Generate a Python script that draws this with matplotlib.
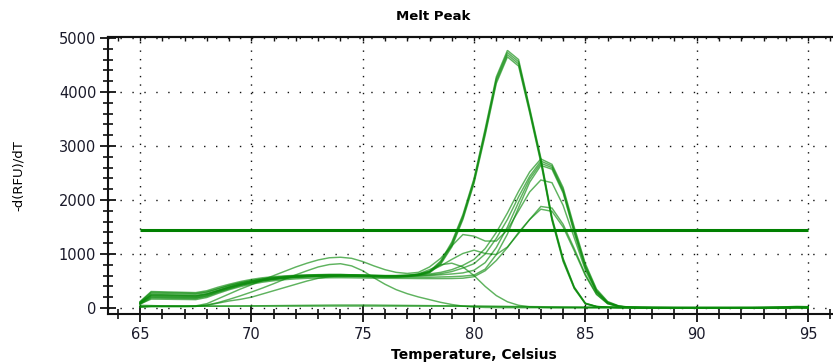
import numpy as np
import matplotlib
matplotlib.use("Agg")
import matplotlib.pyplot as plt
from matplotlib.ticker import MultipleLocator

# Temperature grid (0.5 C steps) and -d(RFU)/dT traces per well
temps = np.arange(65.0, 95.01, 0.5)

well_a1 = [110, 290, 285, 280, 275, 270, 300, 360, 420, 470,
           510, 540, 565, 585, 600, 610, 615, 620, 620, 615,
           610, 600, 595, 595, 600, 620, 680, 870, 1220, 1730,
           2400, 3320, 4280, 4770, 4600, 3700, 2780, 1680, 920, 390,
           90, 30, 15, 10, 8, 7, 6, 6, 5, 5,
           5, 5, 5, 5, 5, 5, 6, 7, 9, 12, 10]
well_a2 = [90, 250, 245, 240, 235, 230, 265, 330, 395, 450,
           495, 530, 555, 575, 590, 600, 605, 610, 610, 605,
           600, 595, 590, 590, 595, 615, 670, 850, 1190, 1700,
           2370, 3280, 4240, 4730, 4560, 3670, 2750, 1660, 900, 380,
           85, 28, 14, 10, 8, 7, 6, 6, 5, 5,
           5, 5, 5, 5, 5, 5, 6, 7, 9, 11, 9]
well_a3 = [80, 215, 212, 208, 205, 200, 240, 310, 375, 430,
           475, 510, 540, 562, 578, 590, 598, 602, 603, 600,
           596, 590, 585, 585, 590, 610, 660, 830, 1160, 1670,
           2340, 3240, 4200, 4690, 4520, 3640, 2720, 1640, 880, 370,
           80, 26, 13, 9, 7, 6, 6, 5, 5, 5,
           5, 4, 4, 4, 5, 5, 5, 6, 8, 10, 8]
well_a4 = [70, 185, 183, 180, 178, 175, 215, 290, 355, 415,
           460, 500, 530, 552, 568, 580, 588, 592, 594, 592,
           588, 582, 578, 578, 585, 605, 650, 810, 1130, 1640,
           2310, 3200, 4160, 4650, 4480, 3610, 2690, 1620, 860, 360,
           75, 25, 12, 9, 7, 6, 5, 5, 5, 4,
           4, 4, 4, 4, 4, 5, 5, 6, 7, 9, 8]
well_b1 = [120, 305, 300, 295, 290, 285, 320, 385, 440, 490,
           530, 560, 580, 595, 605, 612, 618, 620, 620, 615,
           610, 605, 600, 600, 605, 615, 630, 660, 710, 790,
           900, 1100, 1400, 1760, 2160, 2520, 2760, 2660, 2230, 1500,
           820, 350, 120, 40, 15, 10, 8, 7, 6, 6,
           5, 5, 5, 5, 5, 6, 7, 9, 12, 16, 12]
well_b2 = [105, 270, 266, 262, 258, 254, 290, 355, 415, 465,
           505, 538, 560, 577, 590, 598, 604, 607, 607, 603,
           598, 593, 589, 589, 592, 600, 612, 635, 675, 740,
           820, 1000, 1290, 1640, 2060, 2440, 2720, 2630, 2190, 1460,
           790, 330, 110, 35, 14, 9, 7, 6, 6, 5,
           5, 5, 5, 5, 5, 5, 6, 8, 10, 13, 10]
well_b3 = [95, 230, 226, 222, 218, 214, 252, 322, 385, 438,
           482, 518, 543, 562, 576, 586, 592, 596, 597, 594,
           590, 586, 582, 582, 585, 592, 600, 615, 630, 650,
           700, 840, 1120, 1500, 1960, 2390, 2680, 2600, 2160, 1420,
           760, 310, 100, 32, 12, 8, 7, 6, 5, 5,
           5, 5, 4, 4, 5, 5, 6, 7, 9, 11, 9]
well_b4 = [85, 200, 197, 194, 190, 187, 226, 298, 362, 418,
           462, 500, 527, 548, 563, 573, 580, 584, 585, 583,
           579, 575, 572, 570, 570, 571, 570, 575, 580, 590,
           610, 720, 990, 1370, 1860, 2330, 2640, 2570, 2130, 1390,
           740, 300, 95, 30, 12, 8, 6, 6, 5, 5,
           4, 4, 4, 4, 4, 5, 5, 6, 8, 10, 8]
well_c1 = [25, 35, 35, 35, 35, 40, 80, 170, 260, 350,
           430, 520, 600, 680, 760, 830, 890, 930, 940, 920,
           860, 780, 710, 660, 640, 660, 760, 920, 1150, 1360,
           1330, 1240, 1240, 1450, 1800, 2150, 2370, 2320, 1900, 1300,
           700, 290, 90, 30, 12, 8, 6, 6, 5, 5,
           5, 5, 5, 5, 5, 5, 6, 7, 8, 10, 8]
well_c2 = [20, 30, 30, 30, 30, 30, 50, 90, 130, 160,
           200, 260, 320, 380, 440, 500, 550, 580, 600, 610,
           610, 605, 600, 600, 610, 630, 680, 780, 900, 1010,
           1070, 1010, 990, 1130, 1380, 1640, 1880, 1850, 1550, 1100,
           620, 260, 80, 25, 10, 7, 6, 5, 5, 5,
           4, 4, 4, 4, 4, 5, 5, 6, 7, 9, 7]
well_c3 = [75, 165, 163, 160, 158, 155, 195, 270, 338, 395,
           440, 478, 505, 525, 540, 550, 556, 560, 561, 559,
           556, 553, 550, 549, 548, 546, 545, 545, 546, 552,
           580, 690, 880, 1120, 1400, 1640, 1830, 1790, 1500, 1060,
           600, 250, 80, 25, 10, 7, 6, 5, 5, 5,
           4, 4, 4, 4, 4, 5, 5, 6, 7, 9, 7]
well_d1 = [15, 25, 25, 25, 25, 30, 55, 100, 160, 225,
           295, 370, 450, 535, 615, 690, 760, 805, 820, 780,
           690, 560, 440, 340, 265, 205, 155, 105, 65, 35,
           18, 10, 8, 6, 5, 5, 5, 4, 4, 4,
           4, 4, 4, 4, 4, 4, 4, 4, 4, 4,
           4, 4, 4, 4, 4, 4, 5, 5, 6, 7, 6]
well_d2 = [95, 240, 240, 235, 230, 225, 260, 320, 385, 440,
           480, 515, 540, 560, 575, 585, 590, 595, 595, 590,
           585, 580, 575, 575, 590, 630, 710, 800, 830, 760,
           600, 400, 230, 115, 50, 22, 12, 8, 6, 6,
           5, 5, 5, 5, 5, 5, 5, 5, 5, 5,
           5, 5, 5, 5, 5, 5, 6, 7, 8, 10, 8]
well_ntc1 = [30, 35, 35, 35, 35, 35, 35, 35, 35, 35,
             35, 35, 35, 35, 35, 35, 35, 36, 36, 36,
             36, 36, 35, 35, 35, 35, 35, 34, 33, 32,
             30, 28, 26, 24, 22, 20, 18, 17, 16, 15,
             15, 14, 14, 14, 14, 14, 14, 14, 14, 14,
             14, 14, 14, 14, 15, 15, 16, 18, 22, 30, 25]
well_ntc2 = [50, 45, 40, 38, 36, 35, 35, 35, 36, 38,
             40, 42, 44, 46, 48, 50, 52, 54, 55, 55,
             55, 54, 52, 50, 48, 46, 44, 42, 40, 38,
             36, 34, 32, 30, 28, 26, 24, 22, 20, 18,
             16, 15, 14, 13, 12, 12, 12, 12, 12, 12,
             12, 12, 12, 12, 12, 12, 12, 12, 12, 12, 12]

wells = [well_a1, well_a2, well_a3, well_a4,
         well_b1, well_b2, well_b3, well_b4,
         well_c1, well_c2, well_c3,
         well_d1, well_d2, well_ntc1, well_ntc2]

threshold = 1450
threshold_span = [65, 95]

x_ticks = [65, 70, 75, 80, 85, 90, 95]
y_ticks = [0, 1000, 2000, 3000, 4000, 5000]

W, H = 833, 363
fig = plt.figure(figsize=(W / 100, H / 100), dpi=100)
ax = fig.add_axes([108 / W, 1 - 314 / H, (845 - 108) / W, (314 - 37) / H])

green = "#0a8a0a"
for w in wells:
    ax.plot(temps, w, color=green, lw=1.05, alpha=0.65, solid_joinstyle="miter")

ax.hlines(threshold, threshold_span[0], threshold_span[1], color="#008000", lw=2.2)

ax.set_xlim(63.56, 96.66)
ax.set_ylim(-111, 5018)
ax.set_xticks(x_ticks)
ax.set_yticks(y_ticks)
ax.xaxis.set_minor_locator(MultipleLocator(1))
ax.yaxis.set_minor_locator(MultipleLocator(200))

for t in x_ticks:
    ax.axvline(t, color="#111111", lw=1.0, ls=(0, (1, 5.1)), zorder=0)
for t in y_ticks:
    ax.axhline(t, color="#111111", lw=1.0, ls=(0, (1, 7.6)), zorder=0)

ax.spines["right"].set_visible(False)
for s in ("left", "bottom", "top"):
    ax.spines[s].set_linewidth(1.5)
    ax.spines[s].set_color("#111111")

ax.tick_params(axis="both", which="major", direction="inout", length=11,
               width=1.3, labelsize=10.5, color="#111111", labelcolor="#1a1a2a")
ax.tick_params(axis="both", which="minor", direction="inout", length=7,
               width=1.2, color="#111111")
ax.tick_params(axis="x", which="major", pad=4)
ax.tick_params(axis="y", which="major", pad=3)

top = ax.secondary_xaxis("top")
top.set_xticks(x_ticks)
top.xaxis.set_minor_locator(MultipleLocator(1))
top.tick_params(which="both", direction="in", length=3, width=1.0,
                labeltop=False, color="#111111")
top.spines["top"].set_linewidth(1.5)

fig.text(433 / W, 1 - 17 / H, "Melt Peak", ha="center", va="center",
         fontsize=9.5, fontweight="bold")
fig.text(474 / W, 1 - 355 / H, "Temperature, Celsius", ha="center",
         va="center", fontsize=10, fontweight="bold")
fig.text(18 / W, 1 - 176 / H, "-d(RFU)/dT", ha="center", va="center",
         rotation=90, fontsize=9.5)

fig.savefig("out.png", dpi=100)
